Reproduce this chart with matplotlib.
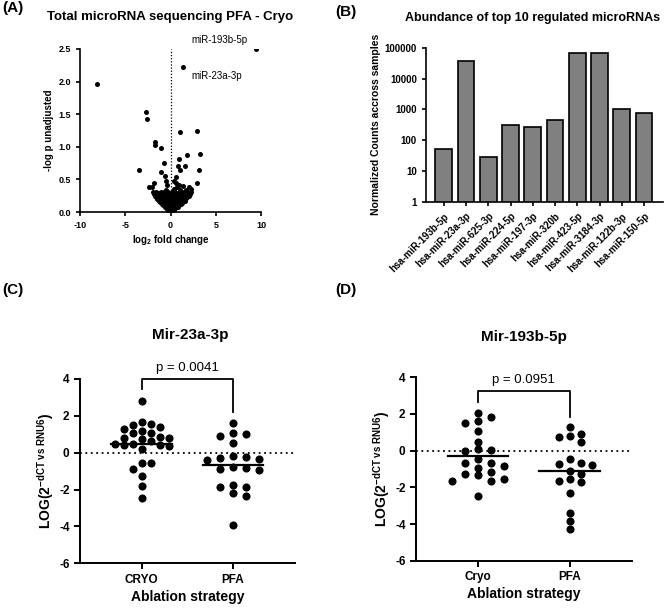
import numpy as np
import matplotlib
matplotlib.use("Agg")
import matplotlib.pyplot as plt

plt.rcParams['font.family'] = ['Liberation Sans', 'DejaVu Sans']
plt.rcParams['mathtext.fontset'] = 'custom'
plt.rcParams['mathtext.rm'] = 'Liberation Sans:bold'
plt.rcParams['mathtext.bf'] = 'Liberation Sans:bold'
plt.rcParams['mathtext.it'] = 'Liberation Sans:bold'
plt.rcParams['axes.unicode_minus'] = False

# (A) volcano: log2 fold change / -log p
volc_fc = [9.4, 1.39, -8.13, -2.75, -2.56, 1.10, 2.93, -1.72, -1.76, -1.03,
           3.22, 1.83, 0.95, -0.73, 0.81, 1.58, -3.52, 1.03, 3.10, -1.04,
           -0.60, 0.56, 0.37, 2.90, -1.78, -2.40, -2.05, -0.48, -0.37, 0.63,
           0.93, 1.40, 2.00, 2.25, -0.55, 0.42, 0.72, 1.05, -0.30, 1.75,
           -1.90, -1.62, -1.35, -1.02, -0.68, -0.25, 0.18, 0.52, 0.88, 1.22, 1.58, 1.95, 2.28,
           -1.80, -1.50, -1.20, -0.88, -0.52, -0.15, 0.35, 0.70, 1.05, 1.40, 1.78, 2.12,
           -1.72, -1.45, -1.12, -0.85, -0.50, -0.12, 0.30, 0.64, 0.98, 1.33, 1.70, 2.02,
           -1.60, -1.30, -1.00, -0.70, -0.40, -0.05, 0.25, 0.55, 0.85, 1.15, 1.50, 1.85,
           -1.48, -1.20, -0.92, -0.58, -0.28, 0.08, 0.42, 0.78, 1.12, 1.42, 1.72,
           -1.30, -1.00, -0.72, -0.42, -0.12, 0.25, 0.58, 0.92, 1.25, 1.55,
           -1.15, -0.82, -0.52, -0.22, 0.18, 0.50, 0.82, 1.08, 1.32,
           -0.95, -0.65, -0.35, -0.05, 0.30, 0.60, 0.90, 1.15,
           -0.80, -0.52, -0.20, 0.12, 0.40, 0.68, 0.92,
           -0.60, -0.30, 0.00, 0.30, 0.58, 0.78,
           -0.42, -0.12, 0.22, 0.50, -0.25, 0.05, 0.35, -0.10, 0.12, 0.0]
volc_p = [2.50, 2.23, 1.97, 1.54, 1.43, 1.23, 1.25, 1.08, 1.02, 0.98,
          0.89, 0.88, 0.81, 0.75, 0.71, 0.71, 0.65, 0.64, 0.64, 0.61,
          0.55, 0.54, 0.47, 0.45, 0.45, 0.39, 0.39, 0.47, 0.42, 0.45,
          0.41, 0.40, 0.39, 0.36, 0.34, 0.36, 0.38, 0.33, 0.31, 0.33,
          0.30, 0.31, 0.29, 0.30, 0.31, 0.29, 0.30, 0.31, 0.29, 0.30, 0.31, 0.29, 0.30,
          0.275, 0.27, 0.28, 0.275, 0.27, 0.28, 0.275, 0.27, 0.28, 0.275, 0.27, 0.28,
          0.25, 0.26, 0.24, 0.25, 0.26, 0.24, 0.25, 0.26, 0.24, 0.25, 0.26, 0.24,
          0.225, 0.22, 0.23, 0.225, 0.22, 0.23, 0.225, 0.22, 0.23, 0.225, 0.22, 0.23,
          0.20, 0.21, 0.19, 0.20, 0.21, 0.19, 0.20, 0.21, 0.19, 0.20, 0.21,
          0.175, 0.17, 0.18, 0.175, 0.17, 0.18, 0.175, 0.17, 0.18, 0.175,
          0.15, 0.16, 0.14, 0.15, 0.16, 0.14, 0.15, 0.16, 0.14,
          0.125, 0.12, 0.13, 0.125, 0.12, 0.13, 0.125, 0.12,
          0.10, 0.11, 0.09, 0.10, 0.11, 0.09, 0.10,
          0.075, 0.08, 0.07, 0.075, 0.08, 0.07,
          0.05, 0.06, 0.05, 0.06, 0.035, 0.04, 0.035, 0.02, 0.02, 0.0]
volc_labels = {0: ('miR-193b-5p', (-36, 9)), 1: ('miR-23a-3p', (34, -9))}

# (B) abundance of top 10 regulated microRNAs
mirnas = ['hsa-miR-193b-5p', 'hsa-miR-23a-3p', 'hsa-miR-625-3p', 'hsa-miR-224-5p',
          'hsa-miR-197-3p', 'hsa-miR-320b', 'hsa-miR-423-5p', 'hsa-miR-3184-3p',
          'hsa-miR-122b-3p', 'hsa-miR-150-5p']
counts = [53, 37000, 29, 305, 269, 454, 68900, 68900, 1000, 783]

# (C) Mir-23a-3p
c_cryo = [2.78, 1.66, 1.56, 1.52, 1.37, 1.27, 1.18, 1.07, 1.07, 0.85,
          0.81, 0.80, 0.74, 0.63, 0.49, 0.47, 0.42, 0.40, 0.38, 0.22,
          -0.54, -0.54, -0.90, -1.28, -1.81, -2.48]
c_pfa = [1.63, 1.08, 0.99, 0.90, 0.52, -0.18, -0.24, -0.27, -0.36, -0.42,
         -0.78, -0.81, -0.87, -0.96, -1.74, -1.86, -1.86, -2.19, -2.35, -3.90]
c_median = [0.47, -0.69]

# (D) Mir-193b-5p
d_cryo = [2.04, 1.82, 1.64, 1.49, 1.07, 0.49, 0.07, 0.04, 0.00, -0.47,
          -0.65, -0.69, -0.82, -0.93, -1.18, -1.27, -1.33, -1.56, -1.65, -1.65, -2.45]
d_pfa = [1.27, 0.89, 0.80, 0.76, 0.49, -0.47, -0.69, -0.73, -0.78, -1.09,
         -1.27, -1.55, -1.64, -1.69, -2.33, -3.42, -3.84, -4.27]
d_median = [-0.27, -1.09]

BW = 'bold'


def style_axes(ax, lw=1.3):
    for s in ['top', 'right']:
        ax.spines[s].set_visible(False)
    for s in ['left', 'bottom']:
        ax.spines[s].set_linewidth(lw)
    ax.tick_params(width=lw, length=4, direction='out')


def swarm(vals, slot_px=9.0, diam_px=7.2, px_per_x=91.6, px_per_y=18.4):
    # simple beeswarm: each point goes to the nearest free slot
    offs = np.zeros(len(vals))
    placed = []
    for i in np.argsort(vals)[::-1]:
        y = vals[i] * px_per_y
        for k in [0, 1, -1, 2, -2, 3, -3, 4, -4, 5, -5]:
            x = k * slot_px
            if all((x - px) ** 2 + (y - py) ** 2 >= diam_px ** 2 for px, py in placed):
                break
        placed.append((x, y))
        offs[i] = x / px_per_x
    return offs


fig = plt.figure(figsize=(6.69, 6.12), dpi=100)

# ---------- (A)
axA = fig.add_axes([80 / 669, 1 - 212 / 612, 181 / 669, 163 / 612])
axA.scatter(volc_fc, volc_p, s=13, color='black', zorder=3, linewidths=0)
axA.axvline(0, color='black', linestyle=(0, (1, 1.5)), linewidth=0.9, zorder=1)
for i, (lab, off) in volc_labels.items():
    axA.annotate(lab, xy=(volc_fc[i], volc_p[i]), xytext=off, textcoords='offset pixels',
                 ha='center', va='center', fontsize=7)
axA.set_xlim(-10, 10)
axA.set_ylim(0, 2.5)
axA.set_xticks([-10, -5, 0, 5, 10])
axA.set_yticks([0, 0.5, 1.0, 1.5, 2.0, 2.5])
axA.set_yticklabels(['0.0', '0.5', '1.0', '1.5', '2.0', '2.5'])
style_axes(axA, 1.2)
axA.tick_params(labelsize=6.5, length=3)
for t in axA.get_xticklabels() + axA.get_yticklabels():
    t.set_fontweight(BW)
axA.set_xlabel(r'log$_{\mathbf{2}}$ fold change', fontsize=7, fontweight=BW, labelpad=2)
axA.set_ylabel('-log p unadjusted', fontsize=7, fontweight=BW, labelpad=3)
fig.text(170 / 669, 1 - 17 / 612, 'Total microRNA sequencing PFA - Cryo', ha='center', va='center',
         fontsize=9.5, fontweight=BW)
fig.text(2 / 669, 1 - 8 / 612, '(A)', ha='left', va='center', fontsize=11, fontweight=BW)

# ---------- (B)
axB = fig.add_axes([426 / 669, 1 - 202 / 612, 237 / 669, 154.3 / 612])
xb = np.arange(len(mirnas))
axB.bar(xb, counts, width=0.75, color='#808080', edgecolor='black', linewidth=1.2, bottom=0)
axB.set_yscale('log')
axB.set_ylim(1, 100000)
axB.set_xlim(-0.8, 9.85)
axB.set_yticks([1, 10, 100, 1000, 10000, 100000])
axB.set_yticklabels(['1', '10', '100', '1000', '10000', '100000'])
axB.minorticks_off()
axB.set_xticks(xb)
axB.set_xticklabels(mirnas, rotation=45, ha='right', rotation_mode='anchor')
style_axes(axB, 1.2)
axB.tick_params(labelsize=7, length=3)
for t in axB.get_xticklabels() + axB.get_yticklabels():
    t.set_fontweight(BW)
axB.set_ylabel('Normalized Counts accross samples', fontsize=7.5, fontweight=BW, labelpad=3)
fig.text(533 / 669, 1 - 18 / 612, 'Abundance of top 10 regulated microRNAs', ha='center', va='center',
         fontsize=9, fontweight=BW)
fig.text(335 / 669, 1 - 12 / 612, '(B)', ha='left', va='center', fontsize=11, fontweight=BW)


# ---------- (C) and (D)
def dot_panel(rect, groups, medians, names, title, ptxt, br, tpos, label_pos, slot):
    ax = fig.add_axes(rect)
    for gi, vals in enumerate(groups):
        xs = gi + swarm(vals, slot_px=slot[gi])
        ax.scatter(xs, vals, s=34, color='black', zorder=3, linewidths=0)
        ax.plot([gi - 0.33, gi + 0.33], [medians[gi]] * 2, color='black', linewidth=1.6, zorder=4)
    ax.axhline(0, color='black', linestyle=(0, (1, 2)), linewidth=1.3, zorder=1)
    top, l_end, r_end = br
    ax.plot([0, 0, 1, 1], [l_end, top, top, r_end], color='black', linewidth=1.3, clip_on=False)
    ax.text(0.5, top + 0.25, ptxt, ha='center', va='bottom', fontsize=9.5)
    ax.set_xlim(-0.674, 1.678)
    ax.set_ylim(-6, 4)
    ax.set_yticks([-6, -4, -2, 0, 2, 4])
    ax.set_xticks([0, 1])
    ax.set_xticklabels(names)
    style_axes(ax, 1.4)
    ax.tick_params(labelsize=8.5, length=4)
    for t in ax.get_xticklabels() + ax.get_yticklabels():
        t.set_fontweight(BW)
    ax.set_xlabel('Ablation strategy', fontsize=10, fontweight=BW, labelpad=3)
    ax.set_ylabel(r'LOG(2$^{\mathbf{-dCT\ vs\ RNU6}}$)', fontsize=10, fontweight=BW, labelpad=2)
    fig.text(tpos[0] / 669, 1 - tpos[1] / 612, title, ha='center', va='center', fontsize=11, fontweight=BW)
    fig.text(label_pos[0] / 669, 1 - label_pos[1] / 612, label_pos[2], ha='left', va='center',
             fontsize=11, fontweight=BW)
    return ax


dot_panel([80 / 669, 1 - 563.3 / 612, 215 / 669, 184.3 / 612], [c_cryo, c_pfa], c_median,
          ['CRYO', 'PFA'], 'Mir-23a-3p', 'p = 0.0041', (4.0, 3.44, 2.22), (190, 335), (2, 290, '(C)'),
          (9.0, 13.0))
dot_panel([416 / 669, 1 - 560.7 / 612, 215.7 / 669, 183.4 / 612], [d_cryo, d_pfa], d_median,
          ['Cryo', 'PFA'], 'Mir-193b-5p', 'p = 0.0951', (3.27, 2.67, 1.85), (524, 337), (335, 290, '(D)'),
          (13.0, 11.0))

fig.savefig('out.png', dpi=100)
